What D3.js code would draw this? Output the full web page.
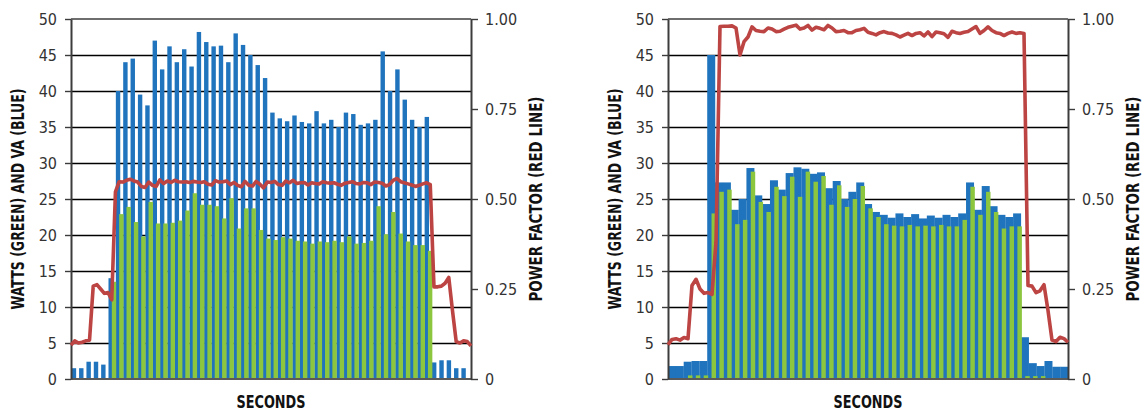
<!DOCTYPE html>
<html lang="en">
<head>
<meta charset="UTF-8">
<title>Watts, VA and power factor</title>
<script src="https://cdn.jsdelivr.net/npm/d3@7"></script>
<style>
  body { margin: 0; background: #fff; }
  svg text { font-family: "Liberation Sans Narrow", "DejaVu Sans Condensed", "Roboto Condensed", sans-serif; }
</style>
</head>
<body>
<svg id="chart" width="1143" height="411"></svg>
<script>
// ---- data ----
var wattTicks = [0, 5, 10, 15, 20, 25, 30, 35, 40, 45, 50];
var pfTicks = [0, 0.25, 0.5, 0.75, 1];
var pfTickLabels = ["0", "0.25", "0.50", "0.75", "1.00"];

// left chart, one value per second
var leftVa = [1.5, 1.5, 2.4, 2.4, 2.0, 14,
  40, 44, 44.5, 39.5, 38, 47, 43, 46.2, 44, 45.8,
  43.4, 48.2, 46.8, 46.2, 46.3, 44, 48, 46.4, 45, 43.6,
  41.8, 37, 36.2, 35.8, 36.6, 35.7, 35.5, 37.2, 35.5, 36,
  35, 37, 36.8, 35.3, 35.5, 36, 45.5, 40, 43, 38.8,
  36, 35, 36.4, 2.3, 2.6, 2.6, 1.5, 1.5];
var leftWatts = [0, 0, 0, 0, 0, 13.5,
  22.9, 23.9, 21.8, 19.8, 24.6, 21.6, 21.6, 21.7, 22, 23.4,
  25.8, 24.2, 24.2, 24, 22.3, 25.1, 20.9, 23.7, 23.7, 20.7,
  19.5, 19.3, 19.7, 19.5, 19.2, 19.1, 18.8, 19.1, 19, 19.2,
  19, 19.8, 18.8, 18.9, 19.2, 24, 20.1, 23.2, 20.2, 19.1,
  18.6, 18.6, 17.8, 0, 0, 0, 0, 0];
// power factor, two samples per second
var leftPf = [0.094, 0.106, 0.100, 0.102, 0.106, 0.108, 0.258, 0.262, 0.25, 0.238, 0.24, 0.22,
  0.52, 0.548, 0.547, 0.552, 0.555, 0.55, 0.547, 0.535, 0.532, 0.547, 0.538, 0.535,
  0.553, 0.543, 0.55, 0.546, 0.552, 0.548, 0.547, 0.548, 0.546, 0.549, 0.547, 0.546,
  0.548, 0.541, 0.539, 0.551, 0.547, 0.548, 0.55, 0.54, 0.546, 0.538, 0.534, 0.549,
  0.538, 0.536, 0.549, 0.541, 0.531, 0.547, 0.546, 0.549, 0.54, 0.538, 0.55, 0.545,
  0.552, 0.543, 0.545, 0.546, 0.539, 0.545, 0.543, 0.542, 0.548, 0.545, 0.544, 0.545,
  0.541, 0.538, 0.544, 0.546, 0.548, 0.543, 0.542, 0.546, 0.545, 0.54, 0.547, 0.546,
  0.544, 0.536, 0.54, 0.552, 0.557, 0.548, 0.545, 0.542, 0.539, 0.535, 0.538, 0.542,
  0.545, 0.54, 0.256, 0.256, 0.258, 0.266, 0.282, 0.19, 0.104, 0.1, 0.106, 0.104, 0.092];

// right chart
var rightVa = [1.8, 1.8, 2.4, 2.5, 2.5, 45,
  27.3, 27.3, 23.5, 25, 29.3, 25.5, 24.3, 27.6, 26.3, 28.6,
  29.4, 29.2, 28.5, 28.7, 26.5, 27.5, 25, 26, 27.3, 24.3,
  23.2, 22.8, 22.4, 23, 22.5, 22.9, 22.3, 22.7, 22.4, 22.8,
  22.5, 23, 27.3, 23.5, 26.8, 24, 22.8, 22.5, 23, 5.8,
  2.2, 1.8, 2.5, 1.7, 1.7];
var rightWatts = [0, 0, 0.5, 0.5, 0.5, 23,
  26, 26.3, 21.5, 22.1, 28.8, 24.6, 23.2, 26.7, 25.4, 28.1,
  25.3, 28.8, 27.4, 28.2, 24.2, 26.9, 23.9, 25, 26.8, 23.7,
  22.5, 21.5, 21.3, 21.2, 21.4, 21.2, 21.3, 21.2, 21.4, 21.2,
  21.2, 22.1, 26.7, 22.8, 26, 23.2, 20.9, 21.2, 21.2, 0.4,
  0.4, 0.4, 0, 0, 0];
var rightPf = [0.095, 0.11, 0.112, 0.108, 0.115, 0.112, 0.26, 0.277, 0.25, 0.238, 0.24, 0.235, 0.38,
  0.979, 0.98, 0.98, 0.981, 0.975, 0.9, 0.937, 0.95, 0.978, 0.968, 0.966, 0.965,
  0.975, 0.972, 0.965, 0.966, 0.972, 0.977, 0.98, 0.983, 0.972, 0.975, 0.982, 0.969,
  0.977, 0.974, 0.97, 0.982, 0.975, 0.965, 0.966, 0.968, 0.962, 0.962, 0.968, 0.97,
  0.974, 0.963, 0.96, 0.956, 0.962, 0.965, 0.961, 0.96, 0.956, 0.95, 0.955, 0.96,
  0.954, 0.96, 0.962, 0.953, 0.964, 0.951, 0.964, 0.962, 0.959, 0.949, 0.966, 0.962,
  0.96, 0.963, 0.965, 0.972, 0.979, 0.96, 0.968, 0.978, 0.968, 0.962, 0.96, 0.954,
  0.96, 0.964, 0.96, 0.962, 0.96, 0.26, 0.258, 0.24, 0.245, 0.262, 0.19, 0.108,
  0.104, 0.116, 0.112, 0.102];

// ---- layout ----
var plotTop = 19, plotBottom = 379;
var blue = "#1f74bd", green = "#8cc63f", red = "#bc4442";
var tickFont = "'Liberation Sans Narrow', 'DejaVu Sans Condensed', sans-serif";

var svg = d3.select("#chart");

// bold condensed title, squeezed to the width it has in the print
function title(g, txt, len) {
    return g.append("text")
        .attr("text-anchor", "middle")
        .attr("font-size", 17).attr("font-weight", "bold").attr("fill", "#111")
        .attr("textLength", len).attr("lengthAdjust", "spacingAndGlyphs")
        .text(txt);
}

function drawPanel(cfg) {
    var w = cfg.right - cfg.left;
    var g = svg.append("g");

    var y = d3.scaleLinear().domain([0, 50]).range([plotBottom, plotTop]);
    var yPf = d3.scaleLinear().domain([0, 1]).range([plotBottom, plotTop]);
    var x = d3.scaleBand()
        .domain(d3.range(cfg.va.length))
        .range([cfg.left, cfg.bandEnd])
        .paddingInner(0).paddingOuter(0);
    var xPf = d3.scaleLinear().domain([0, cfg.pf.length - 1]).range([cfg.left, cfg.right]);
    var step = x.step();

    // grid lines
    var grid = g.append("g")
        .attr("transform", "translate(" + cfg.left + ",0)")
        .call(d3.axisLeft(y).tickValues(wattTicks.slice(1, -1)).tickSize(-w).tickFormat(""));
    grid.select(".domain").remove();
    grid.selectAll("line").attr("stroke", "#000").attr("stroke-width", 1.4);

    // VA bars (behind)
    g.append("g").selectAll("rect")
        .data(cfg.va)
        .join("rect")
        .attr("x", function(d, i) { return x(i) + cfg.blueOff * step; })
        .attr("width", cfg.blueW * step)
        .attr("y", function(d) { return y(d); })
        .attr("height", function(d) { return y(0) - y(d); })
        .attr("fill", blue);

    // Watts bars (front)
    g.append("g").selectAll("rect")
        .data(cfg.watts)
        .join("rect")
        .attr("x", function(d, i) { return x(i) + cfg.greenOff * step; })
        .attr("width", cfg.greenW * step)
        .attr("y", function(d) { return y(d); })
        .attr("height", function(d) { return y(0) - y(d); })
        .attr("fill", green);

    // frame top + bottom
    g.append("line").attr("x1", cfg.left).attr("x2", cfg.right)
        .attr("y1", y(50)).attr("y2", y(50))
        .attr("stroke", "#6e6e6e").attr("stroke-width", 2);
    g.append("line").attr("x1", cfg.left).attr("x2", cfg.right)
        .attr("y1", y(0)).attr("y2", y(0))
        .attr("stroke", "#5a5a5a").attr("stroke-width", 2);

    // left axis
    var ax = g.append("g")
        .attr("transform", "translate(" + cfg.left + ",0)")
        .call(d3.axisLeft(y).tickValues(wattTicks).tickSize(6).tickSizeOuter(0).tickPadding(8));
    ax.select(".domain").attr("stroke", "#3c3c3c").attr("stroke-width", 2);
    ax.selectAll(".tick line").attr("stroke", "#3c3c3c").attr("stroke-width", 1.4);
    ax.selectAll("text").attr("font-size", 16).attr("fill", "#333").style("font-family", tickFont);

    // right axis
    var ar = g.append("g")
        .attr("transform", "translate(" + cfg.right + ",0)")
        .call(d3.axisRight(yPf).tickValues(pfTicks)
            .tickFormat(function(d, i) { return pfTickLabels[i]; })
            .tickSize(7).tickSizeOuter(0).tickPadding(7));
    ar.select(".domain").attr("stroke", "#3c3c3c").attr("stroke-width", 2);
    ar.selectAll(".tick line").attr("stroke", "#3c3c3c").attr("stroke-width", 1.4);
    ar.selectAll("text").attr("font-size", 16).attr("fill", "#333").style("font-family", tickFont);

    // power factor line
    var line = d3.line()
        .x(function(d, i) { return xPf(i); })
        .y(function(d) { return yPf(d); });
    g.append("path")
        .datum(cfg.pf)
        .attr("d", line)
        .attr("fill", "none")
        .attr("stroke", red)
        .attr("stroke-width", 3.6)
        .attr("stroke-linejoin", "round");

    // titles
    var midY = (plotTop + plotBottom) / 2;
    title(g, "WATTS (GREEN) AND VA (BLUE)", 221)
        .attr("dominant-baseline", "central")
        .attr("transform", "translate(" + (cfg.left - 53) + "," + midY + ") rotate(-90)");
    title(g, "POWER FACTOR (RED LINE)", 205)
        .attr("dominant-baseline", "central")
        .attr("transform", "translate(" + (cfg.right + 65) + "," + midY + ") rotate(-90)");
    title(g, "SECONDS", 69)
        .attr("x", cfg.left + w / 2).attr("y", 408);
}

drawPanel({
    left: 71, right: 471, bandEnd: 468,
    va: leftVa, watts: leftWatts, pf: leftPf,
    blueOff: 0.1, blueW: 0.6, greenOff: 0.55, greenW: 0.6
});

drawPanel({
    left: 668, right: 1068, bandEnd: 1068,
    va: rightVa, watts: rightWatts, pf: rightPf,
    blueOff: 0, blueW: 1.02, greenOff: 0.55, greenW: 0.57
});
</script>
</body>
</html>
